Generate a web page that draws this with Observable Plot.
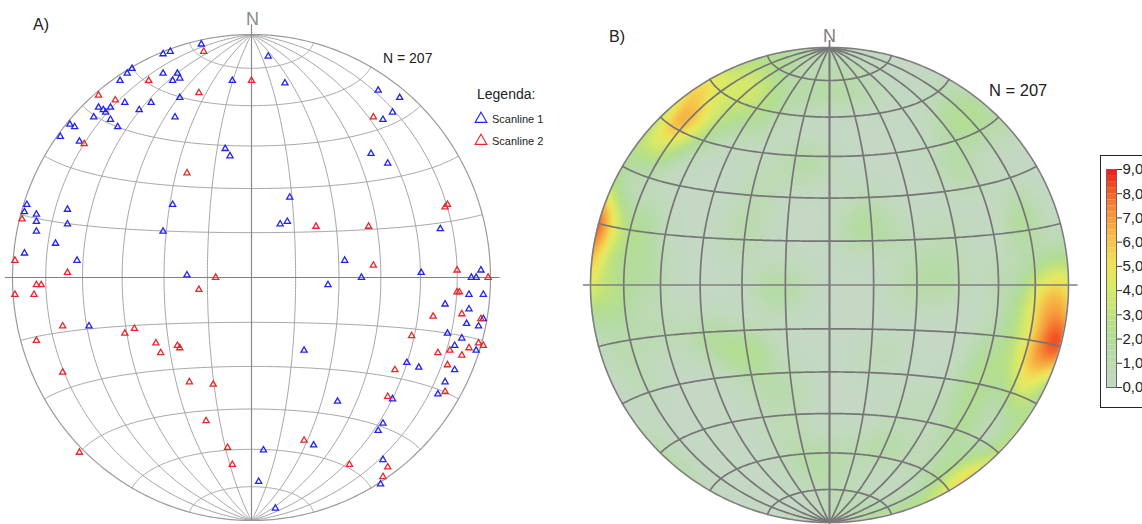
<!DOCTYPE html>
<html><head><meta charset="utf-8">
<script src="https://cdn.jsdelivr.net/npm/d3@7"></script>
<script src="https://cdn.jsdelivr.net/npm/@observablehq/plot@0.6"></script>
<style>
body{margin:0;background:#fff;overflow:hidden;font-family:"Liberation Sans",Arial,sans-serif;}
#root{position:relative;width:1142px;height:524px;overflow:hidden;background:#fff;}
.pane{position:absolute;top:0;}
.lbl{position:absolute;color:#222;white-space:nowrap;line-height:1;transform:translateY(-50%);}
#box{position:absolute;left:1100px;top:155px;width:70px;height:251px;border:1px solid #222;}
</style></head><body><div id="root"></div>
<script>
// ---- data: pole positions, in net units (East, North), primitive radius = 100 ----
const scanline1 = [
[-21,96],[-37,92],[-34,93],[7,91],[-50,86],[-52,84],[-55,81],[-37,84],[-31,84],[-30,82],
[-33,81],[-8,81],[14,80],[-30,74],[-53,72],[-42,72],[-47,69],[-64,70],[-62,69],[-61,68],
[-59,70],[-66,66],[-59,65],[-32,66],[-56,62],[-76,63],[-74,62],[-80,58],[-72,56],[-11,53],
[53,77],[62,74],[59,68],[55,65],[50,51],[-94,30],[-95,27],[-90,26],[-90,23],[-90,19],
[-77,28],[-77,22],[-82,14],[-95,10],[-73,7],[-33,30],[-37,19],[-27,1],[-68,-20],[12,22],
[15,23],[39,7],[46,0],[32,-3],[79,20],[71,2],[96,3],[92,0],[94,0],[91,-7],
[97,-7],[81,-11],[91,-13],[97,-17],[90,-19],[95,-20],[82,-23],[88,-25],[85,-28],[22,-30],
[94,-30],[65,-35],[70,-37],[85,-38],[81,-43],[78,-48],[59,-50],[5,-71],[3,-84],[10,-95],
[26,-69],[55,-60],[53,-63],[55,-75],[54,-85],[36,-51],[-9,50],[16,33],[57,47]
];
const scanline2 = [
[-20,93],[-43,81],[0,81],[-22,76],[-64,75],[-57,73],[-70,55],[51,66],[-96,24],[-99,7],
[-77,2],[-90,-3],[-88,-3],[-99,-7],[-91,-7],[-22,-5],[-15,0],[-79,-20],[-90,-26],[-53,-23],
[-49,-21],[-40,-27],[-31,-28],[-30,-29],[27,21],[49,21],[51,5],[81,29],[82,30],[86,3],
[99,0],[86,-6],[87,-6],[76,-16],[88,-15],[96,-17],[67,-24],[95,-27],[97,-28],[91,-29],
[83,-30],[78,-31],[88,-32],[82,-36],[60,-38],[81,-47],[57,-49],[-19,-59],[-10,-70],[-8,-77],
[22,-67],[41,-77],[57,-78],[55,-82],[-27,43],[-79,-39],[-72,-72],[-26,-43],[-16,-44],[-38,-31]
];
const sampleSize = 207;
const gridStepDeg = 15;
const densityTicks = [0,1,2,3,4,5,6,7,8,9];
const rampColors = ["#c4d8c4","#bcdab2","#aedc98","#bde27e","#d8ea68","#efe85a","#f6c44a","#f79c3c","#f4662a","#ee1a14"];

// ---- Schmidt (equal-area) net geometry, equatorial aspect ----
function proj(lamDeg, phiDeg){
  const l = lamDeg*Math.PI/180, p = phiDeg*Math.PI/180;
  const k = Math.sqrt(2/(1+Math.cos(p)*Math.cos(l)));
  return [100*k*Math.cos(p)*Math.sin(l)/Math.SQRT2, 100*k*Math.sin(p)/Math.SQRT2];
}
const gridLines = [];
for (let lam = -90+gridStepDeg; lam < 90; lam += gridStepDeg)
  for (let phi = -90; phi <= 90; phi += 1){ const [x,y]=proj(lam,phi); gridLines.push({x,y,id:"m"+lam}); }
for (let phi = -90+gridStepDeg; phi < 90; phi += gridStepDeg){
  if (phi === 0) continue;
  for (let lam = -90; lam <= 90; lam += 1){ const [x,y]=proj(lam,phi); gridLines.push({x,y,id:"p"+phi}); }
}
const primitive = d3.range(0,361,1).map(a => ({x:100*Math.cos(a*Math.PI/180), y:100*Math.sin(a*Math.PI/180)}));

// ---- density on the sphere (exponential kernel, axial) ----
function toVec(u,v){
  let r = Math.hypot(u,v);
  if (r > 1){ u/=r; v/=r; r=1; }
  if (r === 0) return [0,0,-1];
  const c = 2*Math.asin(r/Math.SQRT2), s = Math.sin(c);
  return [s*u/r, s*v/r, -Math.cos(c)];
}
const allPoles = scanline1.concat(scanline2);
const vecs = allPoles.map(([e,n]) => toVec(e/100, n/100));
const K = 105;
const norm = K/(vecs.length*(1-Math.exp(-K)));
function density(x,y){
  const g = toVec(x/100, y/100);
  let s = 0;
  for (const p of vecs){
    const d = Math.abs(g[0]*p[0]+g[1]*p[1]+g[2]*p[2]);
    s += Math.exp(K*(d-1));
  }
  return s*norm;
}
const ramp = d3.interpolateRgbBasis(rampColors);
const colorScale = {type:"linear", domain:[0,9], interpolate: ramp, clamp:true};

const root = document.getElementById("root");

// ---- Panel A ----
const left = Plot.plot({
  width: 560, height: 524, margin: 0, style: {background:"transparent", overflow:"visible"},
  x: {domain:[-100,100], range:[12,490], axis:null},
  y: {domain:[-100,100], range:[520,34], axis:null},
  marks: [
    Plot.line(gridLines, {x:"x", y:"y", z:"id", stroke:"#a6a6a6", strokeWidth:1}),
    Plot.line(primitive, {x:"x", y:"y", stroke:"#9a9a9a", strokeWidth:1.2}),
    Plot.ruleY([0], {x1:-103, x2:104, stroke:"#808080", strokeWidth:1.2}),
    Plot.ruleX([0], {y1:-100, y2:104, stroke:"#8a8a8a", strokeWidth:1.2}),
    Plot.dot(scanline1, {x:d=>d[0], y:d=>d[1], symbol:"triangle", r:2.3, stroke:"#2323f0", strokeWidth:1.3, fill:"none"}),
    Plot.dot(scanline2, {x:d=>d[0], y:d=>d[1], symbol:"triangle", r:2.3, stroke:"#e8262b", strokeWidth:1.3, fill:"none"})
  ]
});
left.classList.add("pane"); left.style.left = "0px";
root.appendChild(left);

// ---- Panel B ----
const right = Plot.plot({
  width: 582, height: 524, margin: 0, style: {background:"transparent", overflow:"visible"},
  x: {domain:[-100,100], range:[30,508], axis:null},
  y: {domain:[-100,100], range:[522,47], axis:null},
  color: colorScale,
  marks: [
    Plot.raster({x1:-102, x2:102, y1:-102, y2:102, width:400, height:400, fill:(x,y)=>density(x,y)}),
    Plot.line(gridLines, {x:"x", y:"y", z:"id", stroke:"#767676", strokeWidth:1.7}),
    Plot.line(primitive, {x:"x", y:"y", stroke:"#7e7e7e", strokeWidth:1.6}),
    Plot.ruleY([0], {x1:-103, x2:104, stroke:"#808080", strokeWidth:1.6}),
    Plot.ruleX([0], {y1:-100, y2:103, stroke:"#7a7a7a", strokeWidth:1.7})
  ]
});
right.classList.add("pane"); right.style.left = "560px";
// clip the density raster to the primitive circle (wrapper group in root coordinates)
{
  const ns = "http://www.w3.org/2000/svg";
  const defs = document.createElementNS(ns, "defs");
  const cp = document.createElementNS(ns, "clipPath"); cp.setAttribute("id", "rimClip");
  cp.setAttribute("clipPathUnits", "userSpaceOnUse");
  const el = document.createElementNS(ns, "ellipse");
  el.setAttribute("cx", 269); el.setAttribute("cy", 284.5); el.setAttribute("rx", 239); el.setAttribute("ry", 237.5);
  cp.appendChild(el); defs.appendChild(cp); right.insertBefore(defs, right.firstChild);
  const img = right.querySelector("image");
  if (img) {
    let top = img; while (top.parentNode && top.parentNode !== right) top = top.parentNode;
    const wrap = document.createElementNS(ns, "g");
    wrap.setAttribute("clip-path", "url(#rimClip)");
    right.insertBefore(wrap, top);
    wrap.appendChild(top);
  }
}
root.appendChild(right);

// ---- colour bar ----
const box = document.createElement("div"); box.id = "box"; root.appendChild(box);
const bands = d3.range(0, 9, 0.25).map(lo => ({lo, hi: lo+0.25, mid: lo+0.125}));
const bar = Plot.plot({
  width: 60, height: 260, marginLeft: 10, marginRight: 40, marginTop: 19, marginBottom: 23,
  style: {background:"transparent", overflow:"visible", fontSize:"15px", fontFamily:"Liberation Sans, Arial, sans-serif", color:"#222"},
  x: {domain:[0,1], axis:null},
  y: {domain:[0,9]},
  color: colorScale,
  marks: [
    Plot.rect(bands, {x1:0, x2:1, y1:"lo", y2:"hi", fill:"mid"}),
    Plot.frame({stroke:"#666", strokeWidth:1}),
    Plot.axisY({anchor:"right", ticks:densityTicks, tickSize:5, tickPadding:1, tickFormat:d=>d.toFixed(1).replace(".",","), label:null, stroke:"#333"})
  ]
});
bar.classList.add("pane"); bar.style.left = "1096px"; bar.style.top = "150px";
root.appendChild(bar);

// ---- texts ----
function label(text, x, y, size, extra){
  const d = document.createElement("div"); d.className = "lbl"; d.textContent = text;
  d.style.left = x+"px"; d.style.top = y+"px"; d.style.fontSize = size+"px";
  if (extra) Object.assign(d.style, extra);
  root.appendChild(d); return d;
}
label("A)", 33, 25, 16);
label("N", 246, 19, 18, {color:"#8a8a8a"});
label("N = " + sampleSize, 383, 58, 14);
label("Legenda:", 477, 94, 14);
label("Scanline 1", 492, 119, 11);
label("Scanline 2", 492, 141, 11);
label("B)", 609, 37, 16);
label("N", 823, 36, 18, {color:"#808080"});
label("N = " + sampleSize, 989, 90, 16.5);
// legend symbols
const legSvg = d3.create("svg").attr("width", 20).attr("height", 40)
  .style("position","absolute").style("left","471px").style("top","110px");
legSvg.append("path").attr("d", d3.symbol(d3.symbolTriangle, 60)()).attr("transform","translate(10,9)")
  .attr("fill","none").attr("stroke","#2323f0").attr("stroke-width",1.1);
legSvg.append("path").attr("d", d3.symbol(d3.symbolTriangle, 60)()).attr("transform","translate(10,31)")
  .attr("fill","none").attr("stroke","#e8262b").attr("stroke-width",1.1);
root.appendChild(legSvg.node());
</script></body></html>
